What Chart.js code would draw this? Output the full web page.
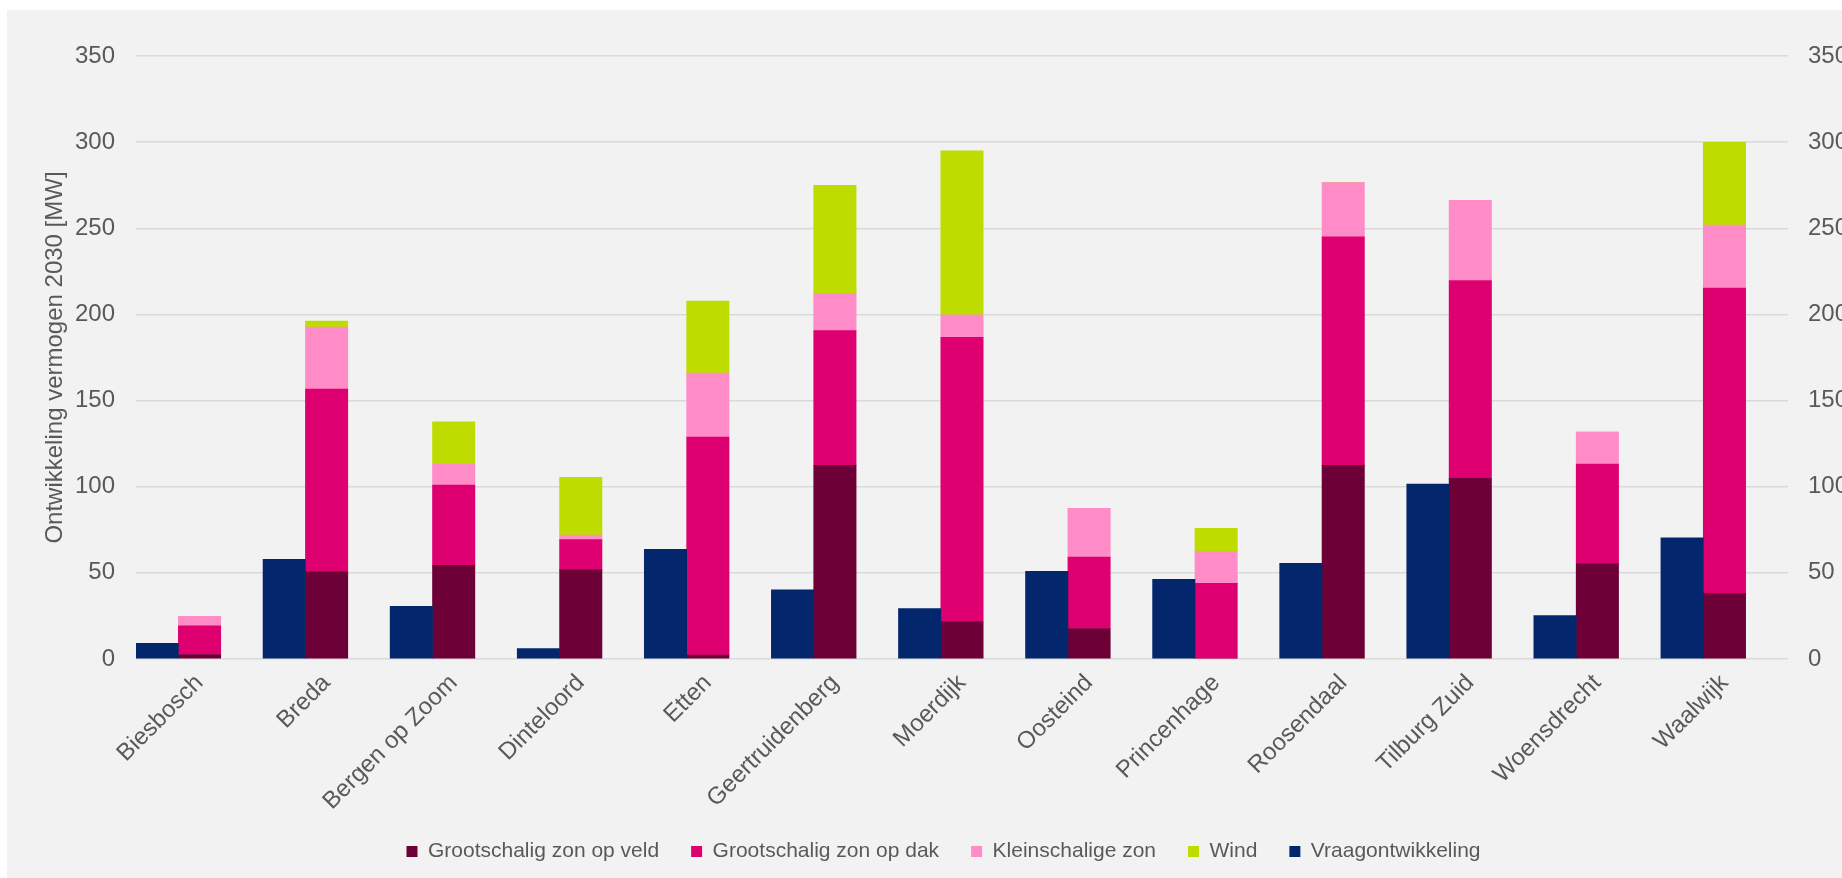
<!DOCTYPE html>
<html>
<head>
<meta charset="utf-8">
<script src="https://cdn.jsdelivr.net/npm/chart.js@4.4.1/dist/chart.umd.min.js"></script>
<style>
  html, body { margin: 0; padding: 0; background: #ffffff; overflow: hidden; }
  #wrap {
    position: absolute; left: 7px; top: 10px;
    width: 1873px; height: 868px;
    background: #f2f2f2; overflow: hidden;
  }
  canvas { display: block; }
</style>
</head>
<body>
<div id="wrap"><canvas id="chart" width="1873" height="862"></canvas></div>
<script>
// values (MW)
var categories = ['Biesbosch', 'Breda', 'Bergen op Zoom', 'Dinteloord', 'Etten', 'Geertruidenberg',
  'Moerdijk', 'Oosteind', 'Princenhage', 'Roosendaal', 'Tilburg Zuid', 'Woensdrecht', 'Waalwijk'];
var vraag = [9.1, 57.9, 30.6, 6.0, 63.6, 40.2, 29.3, 50.9, 46.2, 55.6, 101.5, 25.2, 70.4];
var zonVeld = [2.6, 50.6, 54.3, 51.7, 2.3, 112.4, 21.6, 17.7, 0, 112.4, 104.9, 55.3, 37.9];
var zonDak = [16.6, 106.0, 46.7, 17.6, 126.5, 78.2, 165.1, 41.5, 43.9, 132.7, 114.8, 57.9, 177.4];
var kleinZon = [5.5, 36.1, 12.5, 2.6, 37.1, 21.3, 13.0, 28.3, 18.4, 31.4, 46.5, 18.5, 36.6];
var wind = [0, 3.4, 24.1, 33.5, 41.8, 63.1, 95.3, 0, 13.5, 0, 0, 0, 48.0];
var yTicks = [0, 50, 100, 150, 200, 250, 300, 350];

var FONT = "Arial, 'Liberation Sans', sans-serif";
var TXT = '#595959';

// legend order: vraag comes last even though its bar is drawn first
var legendRank = { 0: 5, 1: 1, 2: 2, 3: 3, 4: 4 };

var ctx = document.getElementById('chart').getContext('2d');
var chart = new Chart(ctx, {
  type: 'bar',
  data: {
    labels: categories,
    datasets: [
      { label: 'Vraagontwikkeling', data: vraag, backgroundColor: '#03266c', stack: 'vraag' },
      { label: 'Grootschalig zon op veld', data: zonVeld, backgroundColor: '#6c0037', stack: 'aanbod' },
      { label: 'Grootschalig zon op dak', data: zonDak, backgroundColor: '#de0070', stack: 'aanbod' },
      { label: 'Kleinschalige zon', data: kleinZon, backgroundColor: '#ff8cc6', stack: 'aanbod' },
      { label: 'Wind', data: wind, backgroundColor: '#bedc00', stack: 'aanbod' },
      // empty third slot so the pair sits at the left of each category like in Excel
      { label: '', data: [], stack: 'leeg' }
    ]
  },
  options: {
    responsive: false,
    animation: false,
    barPercentage: 1,
    categoryPercentage: 1,
    layout: { padding: { top: 46, left: 0, right: 0, bottom: 0 } },
    scales: {
      x: {
        stacked: true,
        grid: { display: false, drawTicks: false },
        border: { display: false },
        ticks: {
          color: TXT, font: { family: FONT, size: 24 },
          minRotation: 45, maxRotation: 45, autoSkip: false, padding: 10
        },
        afterFit: function(s) { s.height = 150; }
      },
      y: {
        stacked: true,
        min: 0, max: 350,
        afterBuildTicks: function(s) { s.ticks = yTicks.map(function(v) { return { value: v }; }); },
        grid: { color: '#d9d9d9', lineWidth: 1.5, drawTicks: false },
        border: { display: false },
        ticks: { color: TXT, font: { family: FONT, size: 24 }, padding: 21 },
        title: {
          display: true, text: 'Ontwikkeling vermogen 2030 [MW]',
          color: TXT, font: { family: FONT, size: 24 }, padding: { top: 34, bottom: 0 }
        },
        afterFit: function(s) { s.width = 129; }
      },
      y2: {
        position: 'right',
        min: 0, max: 350,
        afterBuildTicks: function(s) { s.ticks = yTicks.map(function(v) { return { value: v }; }); },
        grid: { display: false, drawTicks: false },
        border: { display: false },
        ticks: { color: TXT, font: { family: FONT, size: 24 }, padding: 20 },
        afterFit: function(s) { s.width = 92; }
      }
    },
    plugins: {
      tooltip: { enabled: false },
      legend: {
        position: 'bottom',
        labels: {
          color: TXT, font: { family: FONT, size: 21 },
          boxWidth: 11, boxHeight: 11, padding: 32,
          filter: function(item) { return item.text !== ''; },
          sort: function(a, b) { return legendRank[a.datasetIndex] - legendRank[b.datasetIndex]; }
        }
      }
    }
  }
});
</script>
</body>
</html>
